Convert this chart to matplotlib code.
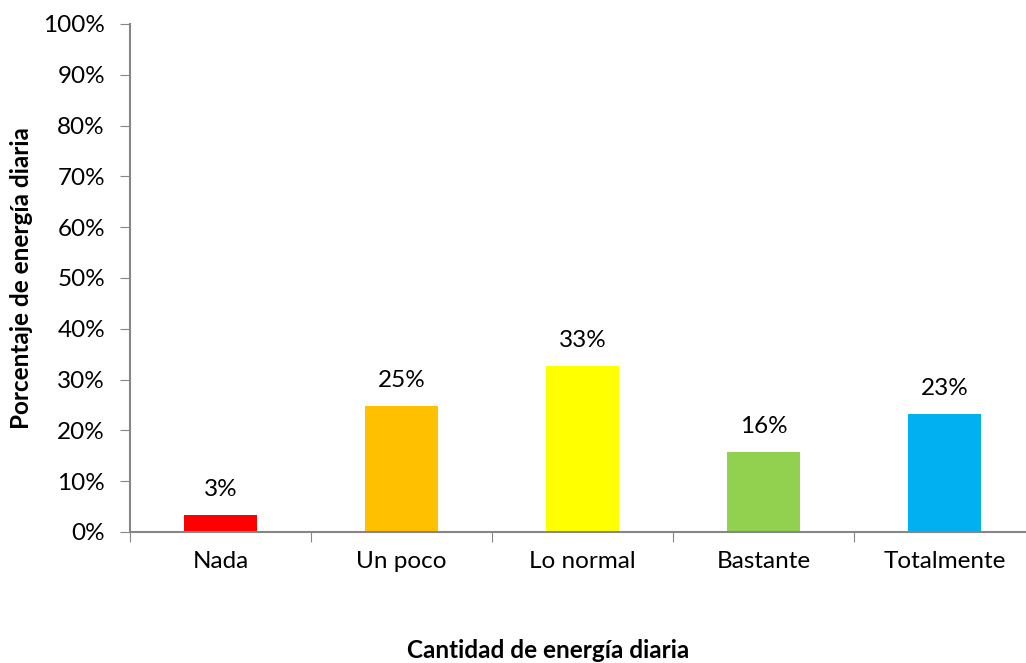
import numpy as np
import matplotlib.pyplot as plt
from matplotlib.ticker import FuncFormatter

categorias = ["Nada", "Un poco", "Lo normal", "Bastante", "Totalmente"]
valores = [3.3, 24.8, 32.7, 15.8, 23.3]
etiquetas = ["3%", "25%", "33%", "16%", "23%"]
colores = ["#FF0000", "#FFC000", "#FFFF00", "#92D050", "#00B0F0"]

plt.rcParams['font.family'] = ['Lato', 'DejaVu Sans']
fs = 17.5

fig = plt.figure(figsize=(10.26, 6.63), dpi=100)
ax = fig.add_axes([130 / 1026, 1 - 532 / 663, 905 / 1026, 508 / 663])

x = np.arange(len(categorias))
ax.bar(x, valores, width=0.405, color=colores)

# etiquetas de datos encima de cada barra
for xi, v, t in zip(x, valores, etiquetas):
    ax.annotate(t, (xi, v), xytext=(0, 15), textcoords="offset pixels",
                ha="center", va="bottom", fontsize=fs, color="black")

ax.set_xlim(-0.5, len(categorias) - 0.5)
ax.set_ylim(0, 100)
ax.set_yticks(np.arange(0, 101, 10))
ax.yaxis.set_major_formatter(FuncFormatter(lambda v, p: "%d%%" % v))

# marcas entre categorias, etiquetas en el centro
ax.set_xticks(np.arange(-0.5, len(categorias), 1.0))
ax.set_xticklabels([])
ax.set_xticks(x, minor=True)
ax.set_xticklabels(categorias, minor=True)
ax.tick_params(axis="x", which="minor", length=0, pad=14, labelsize=fs)
ax.tick_params(axis="x", which="major", length=7, direction="out", color="#868686")
ax.tick_params(axis="y", length=7, direction="out", color="#868686", labelsize=fs, pad=11)

for s in ["top", "right"]:
    ax.spines[s].set_visible(False)
for s in ["left", "bottom"]:
    ax.spines[s].set_color("#868686")
    ax.spines[s].set_linewidth(1.5)

fig.text(548 / 1026, 1 - 651 / 663, "Cantidad de energía diaria", ha="center", va="center",
         fontsize=fs, fontweight="bold")
fig.text(22 / 1026, 1 - 278 / 663, "Porcentaje de energía diaria", ha="center", va="center",
         rotation=90, fontsize=fs, fontweight="bold")

fig.savefig("out.png", dpi=100)
